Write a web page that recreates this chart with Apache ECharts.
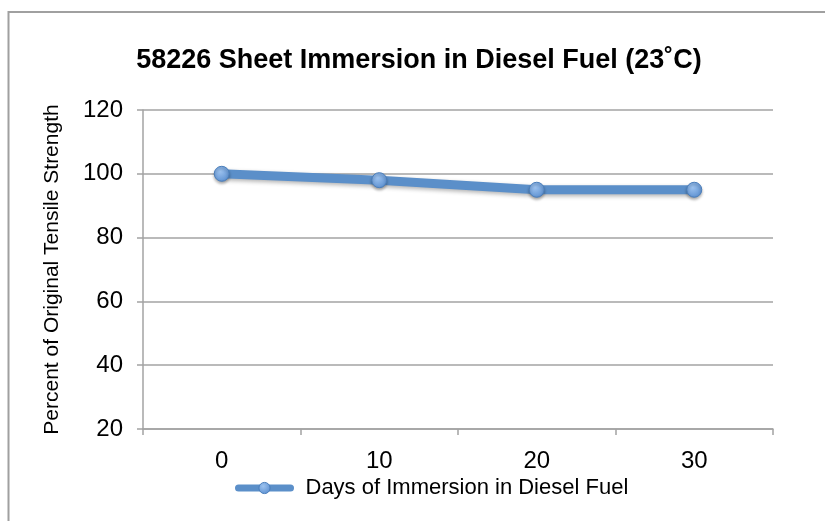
<!DOCTYPE html>
<html>
<head>
<meta charset="utf-8">
<script src="https://cdn.jsdelivr.net/npm/echarts@6/dist/echarts.min.js"></script>
<style>
  html, body { margin: 0; padding: 0; background: #fff; }
  #chart { width: 825px; height: 521px; }
</style>
</head>
<body>
<div id="chart"></div>
<script>
// 数据
const days = ['0', '10', '20', '30'];
const strength = [100, 98, 95, 95];
const seriesName = 'Days of Immersion in Diesel Fuel';

const chart = echarts.init(document.getElementById('chart'));
const font = 'Liberation Sans, Arial, sans-serif';
const gray = '#a3a3a3';
const markerFill = new echarts.graphic.RadialGradient(0.4, 0.35, 0.7, [
  { offset: 0, color: '#9cc2ef' },
  { offset: 1, color: '#5b8fd0' }
]);

chart.setOption({
  animation: false,
  graphic: [{
    type: 'rect',
    shape: { x: 8.5, y: 12, width: 830, height: 530 },
    style: { fill: 'none', stroke: '#a0a0a0', lineWidth: 2 }
  }],
  title: {
    text: '58226 Sheet Immersion in Diesel Fuel (23˚C)',
    left: 414,
    textAlign: 'center',
    top: 42,
    textStyle: { fontFamily: font, fontSize: 27, fontWeight: 'bold', color: '#000' }
  },
  legend: {
    data: [seriesName],
    left: 230,
    top: 472,
    itemWidth: 52,
    itemHeight: 14,
    textStyle: { fontFamily: font, fontSize: 22, color: '#000', padding: [0, 0, 0, 10] },
    lineStyle: { width: 7, color: '#5b8fc9', cap: 'round' },
    itemStyle: { borderWidth: 1 }
  },
  grid: { left: 143, right: 52, top: 110, bottom: 92 },
  xAxis: {
    type: 'category',
    data: days,
    boundaryGap: true,
    axisLine: { lineStyle: { color: gray, width: 1.5 } },
    axisTick: { show: true, length: 6, lineStyle: { color: gray, width: 1.5 } },
    axisLabel: { fontFamily: font, fontSize: 24, color: '#000', margin: 20 }
  },
  yAxis: {
    type: 'value',
    min: 20,
    max: 120,
    interval: 20,
    name: 'Percent of Original Tensile Strength',
    nameLocation: 'middle',
    nameRotate: 90,
    nameGap: 80,
    nameTextStyle: { fontFamily: font, fontSize: 21, color: '#000' },
    axisLine: { show: true, lineStyle: { color: gray, width: 1.5 } },
    axisTick: { show: true, length: 6, lineStyle: { color: gray, width: 1.5 } },
    axisLabel: { fontFamily: font, fontSize: 24, color: '#000', margin: 20 },
    splitLine: { show: true, lineStyle: { color: gray, width: 1.5 } }
  },
  series: [{
    name: seriesName,
    type: 'line',
    data: strength,
    symbol: 'circle',
    symbolSize: 15,
    lineStyle: {
      color: '#5b8fc9',
      width: 9,
      shadowBlur: 4,
      shadowColor: 'rgba(0,0,0,0.3)',
      shadowOffsetY: 2
    },
    itemStyle: {
      color: markerFill,
      borderColor: '#4a7ebb',
      borderWidth: 1,
      shadowBlur: 3,
      shadowColor: 'rgba(0,0,0,0.3)',
      shadowOffsetY: 2
    }
  }]
});
</script>
</body>
</html>
